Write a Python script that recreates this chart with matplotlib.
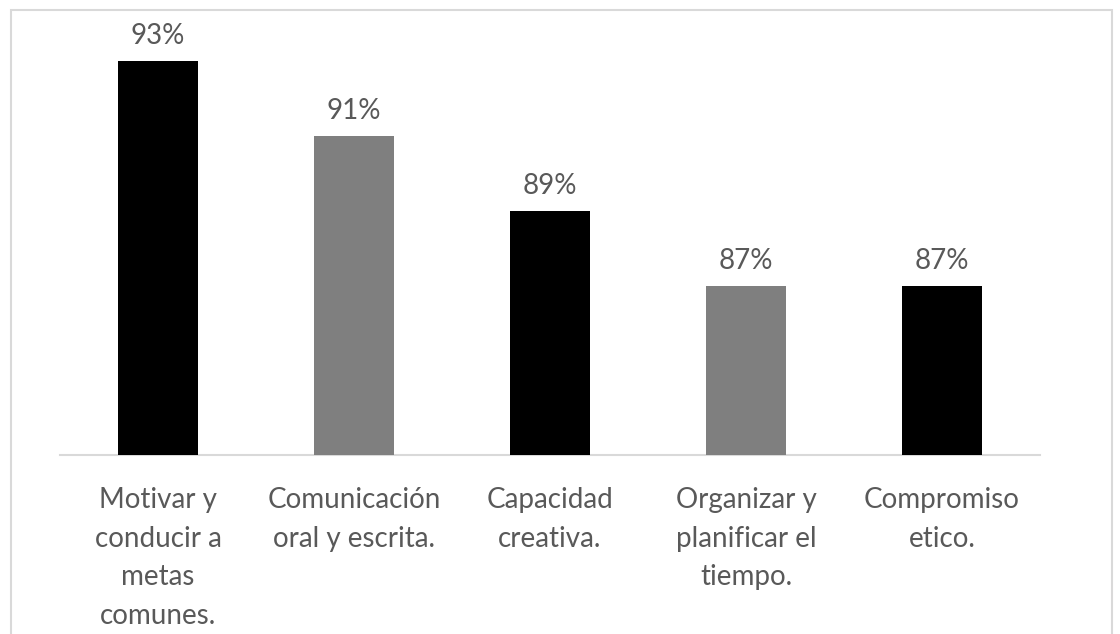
import matplotlib.pyplot as plt
from matplotlib.patches import Rectangle

plt.rcParams['font.family'] = ['Lato', 'DejaVu Sans']

# Competencias y porcentaje de respuestas
competencias = ["Motivar y\nconducir a\nmetas\ncomunes.",
                "Comunicación\noral y escrita.",
                "Capacidad\ncreativa.",
                "Organizar y\nplanificar el\ntiempo.",
                "Compromiso\netico."]
porcentajes = [93, 91, 89, 87, 87]
colores = ["#000000", "#7F7F7F", "#000000", "#7F7F7F", "#000000"]

texto = "#595959"

fig = plt.figure(figsize=(11.2, 6.34), dpi=100)
ax = fig.add_axes([60/1120, (634-455)/634, 980/1120, 435/634])

x = range(len(competencias))
barras = ax.bar(x, porcentajes, width=0.41, color=colores, zorder=3)

for b, v in zip(barras, porcentajes):
    ax.annotate(f"{v}%", (b.get_x() + b.get_width()/2, b.get_height()),
                xytext=(0, 9), textcoords="offset points",
                ha="center", va="bottom", fontsize=20, color=texto)

ax.set_xlim(-0.5, len(competencias) - 0.5)
ax.set_ylim(82.5, 94.1)
ax.set_yticks([])
ax.set_xticks(list(x))
ax.set_xticklabels(competencias, fontsize=20, color=texto, linespacing=1.6)
ax.tick_params(axis="x", length=0, pad=23)

for s in ["top", "left", "right"]:
    ax.spines[s].set_visible(False)
ax.spines["bottom"].set_color("#D9D9D9")
ax.spines["bottom"].set_linewidth(1.5)

# marco del gráfico
fig.patches.append(Rectangle((11/1120, -0.05), 1101/1120, 1 - 10/634 + 0.05,
                             transform=fig.transFigure, fill=False,
                             edgecolor="#D9D9D9", linewidth=1.5))

fig.savefig("out.png", dpi=100)
